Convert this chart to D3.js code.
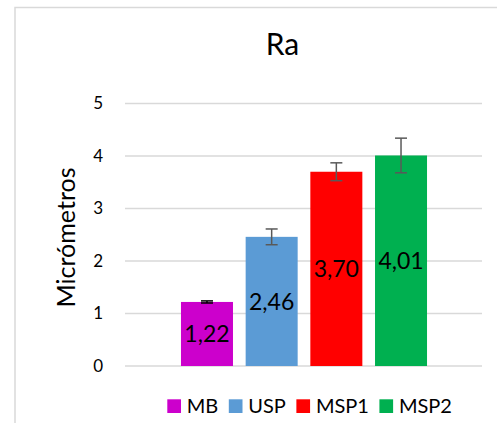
<!DOCTYPE html>
<html><head><meta charset="utf-8">
<script src="https://cdn.jsdelivr.net/npm/d3@7/dist/d3.min.js"></script>
<style>body{margin:0;background:#fff;} svg{display:block;} text{font-family:Lato,"Open Sans",sans-serif;fill:#000;}</style>
</head><body><svg id="c" width="497" height="423"></svg>
<script>
const categories = ["MB", "USP", "MSP1", "MSP2"];
const values = [1.22, 2.46, 3.70, 4.01];
const errors = [0.02, 0.15, 0.17, 0.33];
const labels = ["1,22", "2,46", "3,70", "4,01"];
const yTicks = [0, 1, 2, 3, 4, 5];
const colors = ["#CC00CC", "#5B9BD5", "#FF0000", "#00B050"];
const errColors = ["#000000", "#595959", "#595959", "#595959"];
const title = "Ra";
const yTitle = "Micrómetros";

const svg = d3.select("#c");
// chart frame
svg.append("rect").attr("x", 15).attr("y", 7.5).attr("width", 600).attr("height", 600)
  .attr("fill", "#fff").attr("stroke", "#d9d9d9").attr("stroke-width", 1.5);

const y = d3.scaleLinear().domain([0, 5]).range([366, 103.5]);
const x = d3.scaleBand().domain(categories).range([168.3, 439.7]).paddingInner(0.196).paddingOuter(0.196);
const gridX0 = 125, gridX1 = 482;

// gridlines
svg.append("g").selectAll("line").data(yTicks).join("line")
  .attr("x1", gridX0).attr("x2", gridX1)
  .attr("y1", d => y(d)).attr("y2", d => y(d))
  .attr("stroke", "#d9d9d9").attr("stroke-width", 1.5);

// tick labels
svg.append("g").selectAll("text").data(yTicks).join("text")
  .attr("x", 103).attr("y", d => y(d)).attr("dy", "0.35em")
  .attr("text-anchor", "end").attr("font-size", 17).text(d => d);

// bars
svg.append("g").selectAll("rect").data(categories).join("rect")
  .attr("x", d => x(d)).attr("width", x.bandwidth())
  .attr("y", (d, i) => y(values[i])).attr("height", (d, i) => y(0) - y(values[i]))
  .attr("fill", (d, i) => colors[i]);

// error bars
const eg = svg.append("g");
categories.forEach((c, i) => {
  const cx = x(c) + x.bandwidth() / 2;
  const yt = y(values[i] + errors[i]), yb = y(values[i] - errors[i]);
  const col = errColors[i];
  eg.append("line").attr("x1", cx).attr("x2", cx).attr("y1", yt).attr("y2", yb).attr("stroke", col).attr("stroke-width", 1.5);
  [yt, yb].forEach(yy => eg.append("line").attr("x1", cx - 6).attr("x2", cx + 6).attr("y1", yy).attr("y2", yy).attr("stroke", col).attr("stroke-width", 1.5));
});

// data labels
svg.append("g").selectAll("text").data(categories).join("text")
  .attr("x", d => x(d) + x.bandwidth() / 2)
  .attr("y", (d, i) => (y(values[i]) + y(0)) / 2).attr("dy", "0.36em")
  .attr("text-anchor", "middle").attr("font-size", 23)
  .text((d, i) => labels[i]);

// title
svg.append("text").attr("x", 282.5).attr("y", 55).attr("text-anchor", "middle").attr("font-size", 30).text(title);

// y axis title
svg.append("text").attr("transform", "translate(75,237.5) rotate(-90)")
  .attr("text-anchor", "middle").attr("font-size", 25).text(yTitle);

// legend
const lg = svg.append("g");
let lx = 167.3;
categories.forEach((c, i) => {
  lg.append("rect").attr("x", lx).attr("y", 399.3).attr("width", 13.7).attr("height", 13.7).attr("fill", colors[i]);
  const t = lg.append("text").attr("x", lx + 19.5).attr("y", 406).attr("dy", "0.36em").attr("font-size", 20).text(c);
  lx += 19.5 + t.node().getComputedTextLength() + 10.5;
});
</script></body></html>
